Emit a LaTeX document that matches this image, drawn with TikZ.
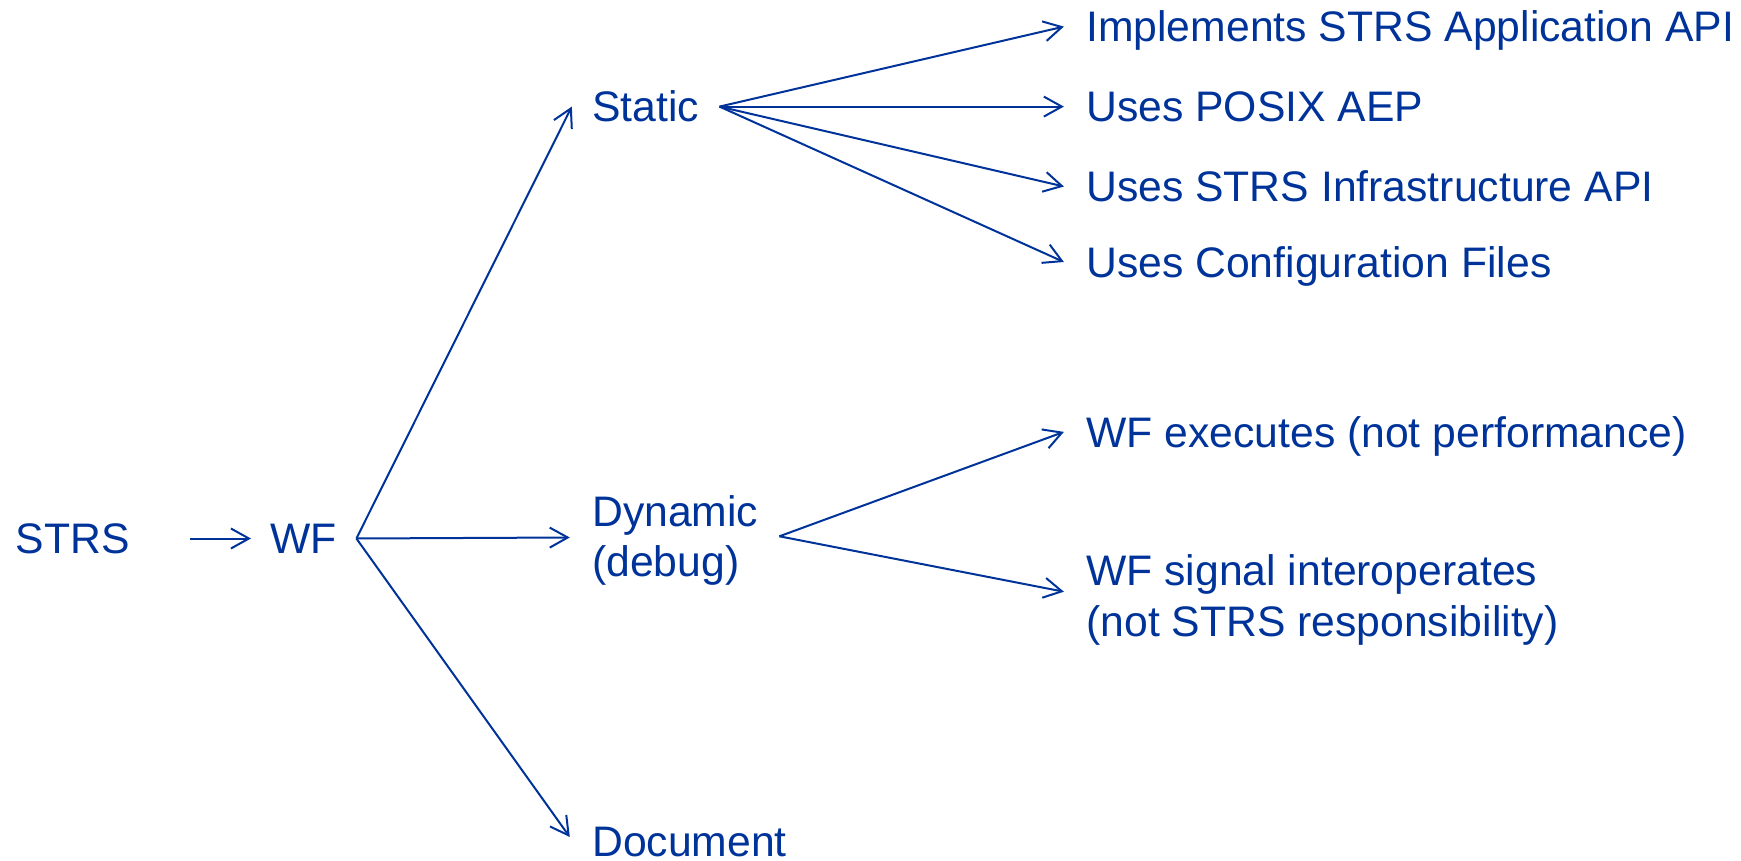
\documentclass[tikz,border=0pt]{standalone}
\usepackage{fontspec}
\setmainfont{Liberation Sans}
\usetikzlibrary{arrows.meta,calc}
\definecolor{nasablue}{RGB}{0,51,153}
\begin{document}
\begin{tikzpicture}[x=0.5pt,y=-0.5pt,
  lbl/.style={anchor=west, inner sep=0pt, text height=15.1pt, text depth=0pt,
    text=nasablue, font=\fontsize{21.35pt}{25pt}\selectfont},
  conn/.style={draw=nasablue, line width=1pt,
    -{Straight Barb[length=9pt,width=10pt,line width=1pt]}}]
\useasboundingbox (0,0) rectangle (1741,861);
% nodes
\node[lbl] (strs) at (15.5,538.5) {STRS};
\node[lbl] (wf) at (270,538.5) {WF};
\node[lbl] (static) at (591.8,106.6) {Static};
\node[lbl] (dyn1) at (591.8,511.5) {Dynamic};
\node[lbl] (dyn2) at (591.8,561.5) {(debug)};
\node[lbl] (doc) at (591.8,841) {Document};
\node[lbl] (impl) at (1085.9,26.6) {Implements STRS Application API};
\node[lbl] (posix) at (1085.9,106.6) {Uses POSIX AEP};
\node[lbl] (infra) at (1085.9,186.5) {Uses STRS Infrastructure API};
\node[lbl] (config) at (1085.9,262) {Uses Configuration Files};
\node[lbl] (exec) at (1085.9,431.9) {WF executes (not performance)};
\node[lbl] (sig1) at (1085.9,570.5) {WF signal interoperates};
\node[lbl] (sig2) at (1085.9,621) {(not STRS responsibility)};
% apex points
\coordinate (wfapex) at (356.4,538.5);
\coordinate (stapex) at (719.5,106.6);
\coordinate (dynapex) at (779.4,536.3);
\coordinate (dynmid) at ($(dyn1.west)!0.52!(dyn2.west)$);
\coordinate (sigmid) at ($(sig1.west)!0.42!(sig2.west)$);
% connectors
\draw[conn] ([xshift=30pt]strs.east) -- ([xshift=-9.5pt]wf.west);
\draw[conn] (wfapex) -- ([xshift=-10pt]static.west);
\draw[conn] (wfapex) -- ([xshift=-11pt]dynmid);
\draw[conn] (wfapex) -- ([xshift=-11pt,yshift=2pt]doc.west);
\draw[conn] (stapex) -- ([xshift=-11pt]impl.west);
\draw[conn] (stapex) -- ([xshift=-11pt]posix.west);
\draw[conn] (stapex) -- ([xshift=-11pt]infra.west);
\draw[conn] (stapex) -- ([xshift=-11pt]config.west);
\draw[conn] (dynapex) -- ([xshift=-11pt]exec.west);
\draw[conn] (dynapex) -- ([xshift=-11pt]sigmid);
\end{tikzpicture}
\end{document}
